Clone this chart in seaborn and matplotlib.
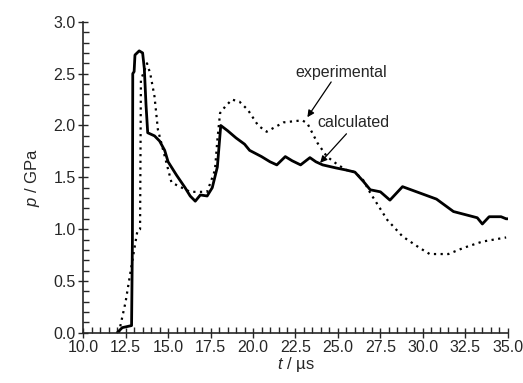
import matplotlib
matplotlib.use("Agg")
import matplotlib.pyplot as plt
import seaborn as sns
import numpy as np
import pandas as pd
from matplotlib.ticker import MultipleLocator

# calculated (solid)
calc_t = [12.0, 12.3, 12.85, 12.9, 12.92, 13.0, 13.05, 13.3, 13.5, 13.6, 13.7, 13.8, 14.2, 14.5,
          14.8, 15.0, 15.5, 16.0, 16.3, 16.6, 16.9, 17.3, 17.6, 17.9, 18.1, 18.5, 19.0, 19.5, 19.8,
          20.5, 21.0, 21.4, 21.9, 22.3, 22.8, 23.35, 23.7, 24.1, 24.9, 25.5, 26.0, 26.5, 26.9,
          27.5, 28.06, 28.8, 29.8, 30.8, 31.8, 32.5, 33.2, 33.5, 33.9, 34.6, 34.9, 35.0]
calc_p = [0.0, 0.05, 0.07, 0.9, 2.5, 2.52, 2.68, 2.72, 2.7, 2.55, 2.2, 1.93, 1.9, 1.85,
          1.76, 1.65, 1.52, 1.4, 1.32, 1.27, 1.33, 1.32, 1.4, 1.6, 2.0, 1.95, 1.88, 1.82, 1.76,
          1.7, 1.65, 1.62, 1.70, 1.66, 1.62, 1.69, 1.65, 1.62, 1.59, 1.57, 1.55, 1.46, 1.38,
          1.36, 1.28, 1.41, 1.35, 1.29, 1.17, 1.14, 1.11, 1.05, 1.12, 1.12, 1.1, 1.1]

# experimental (dotted)
exp_t = [12.1, 12.5, 12.9, 13.2, 13.35, 13.4, 13.76, 13.95, 14.2, 14.4, 15.2, 16.3, 17.3, 17.76,
         17.9, 18.06, 18.35, 18.76, 19.2, 19.7, 20.3, 20.8, 21.8, 22.9, 23.2, 23.8, 24.35,
         25.0, 25.5, 26.0, 26.5, 26.9, 27.9, 28.8, 29.8, 30.4, 31.5, 32.4, 33.5, 34.9]
exp_p = [0.0, 0.3, 0.7, 0.99, 1.0, 2.44, 2.6, 2.5, 2.28, 1.96, 1.45, 1.36, 1.36, 1.57,
         1.86, 2.12, 2.18, 2.25, 2.23, 2.15, 2.0, 1.94, 2.03, 2.05, 2.02, 1.83, 1.70,
         1.62, 1.57, 1.55, 1.47, 1.35, 1.09, 0.93, 0.82, 0.76, 0.76, 0.82, 0.88, 0.92]

sns.set_style("ticks")
plt.rcParams["font.family"] = ["Liberation Sans", "DejaVu Sans"]
plt.rcParams["mathtext.fontset"] = "custom"
plt.rcParams["mathtext.it"] = "Liberation Sans:italic"
plt.rcParams["mathtext.rm"] = "Liberation Sans"

fig = plt.figure(figsize=(5.23, 3.83), dpi=100)
ax = fig.add_axes([0.159, 0.131, 0.812, 0.812])

sns.lineplot(x=calc_t, y=calc_p, ax=ax, sort=False, estimator=None, color="black", lw=2.0)
sns.lineplot(x=exp_t, y=exp_p, ax=ax, sort=False, estimator=None, color="black", lw=1.6,
             linestyle=(0, (1, 2)))

ax.set_xlim(10, 35)
ax.set_ylim(0, 3)
ax.xaxis.set_major_locator(MultipleLocator(2.5))
ax.xaxis.set_minor_locator(MultipleLocator(0.5))
ax.yaxis.set_major_locator(MultipleLocator(0.5))
ax.yaxis.set_minor_locator(MultipleLocator(0.1))
ax.xaxis.set_major_formatter(matplotlib.ticker.FormatStrFormatter("%.1f"))
ax.yaxis.set_major_formatter(matplotlib.ticker.FormatStrFormatter("%.1f"))
ax.tick_params(which="major", direction="inout", length=7, width=1, labelsize=11.5, pad=2)
ax.tick_params(which="minor", direction="in", length=4, width=1)
for s in ["top", "right"]:
    ax.spines[s].set_visible(False)
for s in ["left", "bottom"]:
    ax.spines[s].set_linewidth(1.2)

ax.set_xlabel("$t$ / µs", fontsize=12, labelpad=0)
ax.set_ylabel("$p$ / GPa", fontsize=12, labelpad=8)

ax.text(25.2, 2.51, "experimental", fontsize=11.5, ha="center", va="center")
ax.text(25.9, 2.03, "calculated", fontsize=11.5, ha="center", va="center")
ax.annotate("", xy=(23.2, 2.08), xytext=(24.6, 2.42),
            arrowprops=dict(arrowstyle="-|>", color="black", lw=0.9, mutation_scale=10,
                            shrinkA=0, shrinkB=0))
ax.annotate("", xy=(23.95, 1.64), xytext=(25.5, 1.92),
            arrowprops=dict(arrowstyle="-|>", color="black", lw=0.9, mutation_scale=10,
                            shrinkA=0, shrinkB=0))

fig.savefig("out.png", dpi=100)
